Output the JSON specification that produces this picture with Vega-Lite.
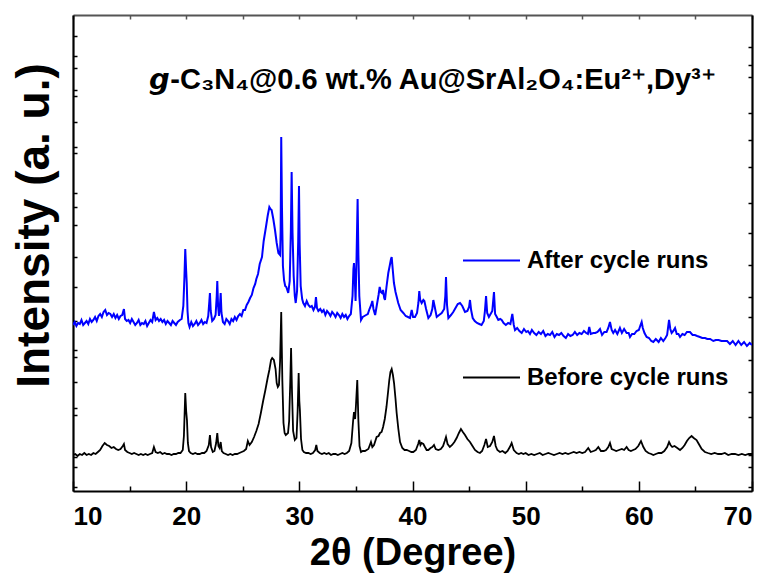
{
  "$schema": "https://vega.github.io/schema/vega-lite/v6.json",
  "width": 679,
  "height": 476,
  "autosize": {"type": "none"},
  "padding": {"left": 73, "top": 15, "right": 18, "bottom": 83},
  "background": "white",
  "config": {
    "view": {"stroke": null},
    "axis": {"grid": false, "domainColor": "#000000", "domainWidth": 2.2, "tickColor": "#000000", "tickWidth": 1.5}
  },
  "title": {
    "text": "𝙜-C₃N₄@0.6 wt.% Au@SrAl₂O₄:Eu²⁺,Dy³⁺",
    "font": "Liberation Sans",
    "fontSize": 29,
    "fontWeight": "bold",
    "color": "#000000",
    "anchor": "middle",
    "baseline": "alphabetic",
    "offset": -104,
    "dx": 20
  },
  "datasets": {
    "before": [
      {"t":10.0,"i":36},{"t":10.2,"i":37},{"t":10.4,"i":35},{"t":10.6,"i":37},{"t":10.8,"i":36},{"t":11.0,"i":38},{"t":11.2,"i":36},{"t":11.4,"i":37},{"t":11.6,"i":36},{"t":11.8,"i":38},
      {"t":12.0,"i":37},{"t":12.2,"i":39},{"t":12.4,"i":41},{"t":12.6,"i":45},{"t":12.8,"i":48},{"t":13.0,"i":46},{"t":13.2,"i":45},{"t":13.4,"i":43},{"t":13.6,"i":44},{"t":13.8,"i":42},
      {"t":14.0,"i":41},{"t":14.2,"i":42},{"t":14.4,"i":45},{"t":14.5,"i":47},{"t":14.6,"i":41},{"t":14.8,"i":39},{"t":15.0,"i":38},{"t":15.2,"i":37},{"t":15.4,"i":38},{"t":15.6,"i":37},
      {"t":15.8,"i":36},{"t":16.0,"i":37},{"t":16.2,"i":36},{"t":16.4,"i":37},{"t":16.6,"i":36},{"t":16.8,"i":37},{"t":17.0,"i":38},{"t":17.15,"i":44},{"t":17.3,"i":39},{"t":17.5,"i":38},
      {"t":17.7,"i":39},{"t":17.9,"i":37},{"t":18.1,"i":38},{"t":18.3,"i":37},{"t":18.5,"i":37},{"t":18.7,"i":36},{"t":18.9,"i":37},{"t":19.1,"i":37},{"t":19.3,"i":38},{"t":19.5,"i":38},
      {"t":19.7,"i":41},{"t":19.8,"i":55},{"t":19.92,"i":98},{"t":20.0,"i":80},{"t":20.07,"i":71},{"t":20.15,"i":48},{"t":20.25,"i":40},{"t":20.4,"i":38},{"t":20.6,"i":37},{"t":20.8,"i":38},
      {"t":21.0,"i":37},{"t":21.2,"i":37},{"t":21.4,"i":38},{"t":21.6,"i":38},{"t":21.8,"i":40},{"t":22.0,"i":46},{"t":22.1,"i":56},{"t":22.2,"i":44},{"t":22.35,"i":39},{"t":22.5,"i":40},
      {"t":22.65,"i":48},{"t":22.75,"i":58},{"t":22.85,"i":45},{"t":22.95,"i":43},{"t":23.05,"i":49},{"t":23.15,"i":40},{"t":23.3,"i":38},{"t":23.5,"i":37},{"t":23.7,"i":36},{"t":23.9,"i":37},
      {"t":24.1,"i":36},{"t":24.3,"i":37},{"t":24.5,"i":37},{"t":24.7,"i":38},{"t":24.9,"i":39},{"t":25.1,"i":40},{"t":25.3,"i":42},{"t":25.45,"i":50},{"t":25.6,"i":46},{"t":25.8,"i":49},
      {"t":26.0,"i":54},{"t":26.2,"i":60},{"t":26.4,"i":67},{"t":26.6,"i":78},{"t":26.8,"i":90},{"t":27.0,"i":101},{"t":27.2,"i":113},{"t":27.35,"i":121},{"t":27.5,"i":131},{"t":27.6,"i":133},
      {"t":27.75,"i":131},{"t":27.9,"i":122},{"t":28.0,"i":108},{"t":28.1,"i":104},{"t":28.2,"i":106},{"t":28.3,"i":130},{"t":28.4,"i":179},{"t":28.5,"i":110},{"t":28.6,"i":68},{"t":28.7,"i":58},
      {"t":28.8,"i":56},{"t":28.9,"i":57},{"t":29.0,"i":58},{"t":29.1,"i":70},{"t":29.2,"i":110},{"t":29.27,"i":143},{"t":29.35,"i":100},{"t":29.45,"i":60},{"t":29.6,"i":51},{"t":29.75,"i":53},
      {"t":29.85,"i":80},{"t":29.94,"i":118},{"t":30.0,"i":90},{"t":30.05,"i":81},{"t":30.15,"i":52},{"t":30.27,"i":41},{"t":30.4,"i":39},{"t":30.6,"i":38},{"t":30.8,"i":38},{"t":31.0,"i":37},
      {"t":31.2,"i":38},{"t":31.4,"i":41},{"t":31.5,"i":46},{"t":31.6,"i":40},{"t":31.8,"i":38},{"t":32.0,"i":37},{"t":32.2,"i":38},{"t":32.4,"i":37},{"t":32.6,"i":38},{"t":32.8,"i":36},
      {"t":33.0,"i":37},{"t":33.2,"i":37},{"t":33.4,"i":36},{"t":33.6,"i":37},{"t":33.8,"i":38},{"t":34.0,"i":37},{"t":34.2,"i":38},{"t":34.4,"i":40},{"t":34.6,"i":48},{"t":34.75,"i":70},
      {"t":34.83,"i":79},{"t":34.93,"i":72},{"t":35.0,"i":85},{"t":35.12,"i":111},{"t":35.22,"i":70},{"t":35.32,"i":45},{"t":35.45,"i":39},{"t":35.6,"i":40},{"t":35.8,"i":40},{"t":35.95,"i":41},
      {"t":36.1,"i":42},{"t":36.2,"i":45},{"t":36.33,"i":49},{"t":36.45,"i":44},{"t":36.6,"i":46},{"t":36.83,"i":54},{"t":37.0,"i":55},{"t":37.13,"i":58},{"t":37.27,"i":59},{"t":37.4,"i":64},
      {"t":37.55,"i":72},{"t":37.7,"i":84},{"t":37.85,"i":100},{"t":37.95,"i":111},{"t":38.05,"i":119},{"t":38.16,"i":122},{"t":38.27,"i":116},{"t":38.37,"i":108},{"t":38.5,"i":92},{"t":38.6,"i":78},
      {"t":38.75,"i":62},{"t":38.9,"i":49},{"t":39.1,"i":43},{"t":39.3,"i":41},{"t":39.49,"i":41},{"t":39.7,"i":40},{"t":39.9,"i":39},{"t":40.07,"i":39},{"t":40.3,"i":41},{"t":40.5,"i":47},
      {"t":40.6,"i":51},{"t":40.7,"i":46},{"t":40.8,"i":48},{"t":40.96,"i":47},{"t":41.1,"i":44},{"t":41.25,"i":41},{"t":41.4,"i":41},{"t":41.6,"i":43},{"t":41.75,"i":44},{"t":41.9,"i":46},
      {"t":42.05,"i":42},{"t":42.28,"i":41},{"t":42.5,"i":42},{"t":42.7,"i":45},{"t":42.85,"i":50},{"t":42.96,"i":54},{"t":43.1,"i":47},{"t":43.3,"i":44},{"t":43.5,"i":46},{"t":43.7,"i":49},
      {"t":43.9,"i":53},{"t":44.1,"i":58},{"t":44.28,"i":62},{"t":44.45,"i":59},{"t":44.64,"i":56},{"t":44.85,"i":52},{"t":45.08,"i":49},{"t":45.3,"i":45},{"t":45.52,"i":41},{"t":45.75,"i":39},
      {"t":45.96,"i":38},{"t":46.15,"i":40},{"t":46.35,"i":46},{"t":46.5,"i":52},{"t":46.65,"i":44},{"t":46.85,"i":45},{"t":47.05,"i":49},{"t":47.2,"i":55},{"t":47.35,"i":45},{"t":47.5,"i":41},
      {"t":47.73,"i":39},{"t":47.95,"i":40},{"t":48.2,"i":38},{"t":48.4,"i":40},{"t":48.6,"i":44},{"t":48.76,"i":48},{"t":48.95,"i":41},{"t":49.2,"i":38},{"t":49.4,"i":37},{"t":49.6,"i":38},
      {"t":49.8,"i":37},{"t":50.0,"i":38},{"t":50.25,"i":36},{"t":50.5,"i":37},{"t":50.75,"i":36},{"t":51.0,"i":37},{"t":51.25,"i":38},{"t":51.5,"i":36},{"t":51.75,"i":37},{"t":52.0,"i":38},
      {"t":52.25,"i":37},{"t":52.5,"i":36},{"t":52.75,"i":37},{"t":53.0,"i":38},{"t":53.25,"i":37},{"t":53.5,"i":38},{"t":53.75,"i":37},{"t":54.0,"i":38},{"t":54.25,"i":39},{"t":54.5,"i":38},
      {"t":54.75,"i":39},{"t":55.0,"i":38},{"t":55.25,"i":39},{"t":55.53,"i":43},{"t":55.75,"i":39},{"t":56.0,"i":40},{"t":56.2,"i":41},{"t":56.42,"i":44},{"t":56.65,"i":40},{"t":56.9,"i":40},
      {"t":57.1,"i":41},{"t":57.3,"i":44},{"t":57.45,"i":48},{"t":57.6,"i":42},{"t":57.8,"i":41},{"t":58.0,"i":40},{"t":58.25,"i":41},{"t":58.5,"i":42},{"t":58.7,"i":41},{"t":58.92,"i":44},
      {"t":59.1,"i":41},{"t":59.3,"i":40},{"t":59.5,"i":41},{"t":59.7,"i":42},{"t":59.95,"i":45},{"t":60.19,"i":50},{"t":60.4,"i":44},{"t":60.6,"i":40},{"t":60.85,"i":38},{"t":61.1,"i":37},
      {"t":61.28,"i":36},{"t":61.5,"i":37},{"t":61.75,"i":38},{"t":62.0,"i":38},{"t":62.25,"i":40},{"t":62.5,"i":44},{"t":62.67,"i":49},{"t":62.8,"i":46},{"t":62.95,"i":44},{"t":63.15,"i":45},
      {"t":63.4,"i":43},{"t":63.64,"i":41},{"t":63.85,"i":43},{"t":64.05,"i":46},{"t":64.25,"i":50},{"t":64.45,"i":53},{"t":64.66,"i":55},{"t":64.85,"i":53},{"t":65.1,"i":51},{"t":65.3,"i":47},
      {"t":65.55,"i":42},{"t":65.84,"i":39},{"t":66.1,"i":38},{"t":66.4,"i":37},{"t":66.7,"i":38},{"t":67.0,"i":37},{"t":67.3,"i":37},{"t":67.6,"i":38},{"t":67.9,"i":36},{"t":68.2,"i":37},
      {"t":68.5,"i":37},{"t":68.8,"i":36},{"t":69.1,"i":37},{"t":69.4,"i":36},{"t":69.7,"i":37},{"t":70.0,"i":37}
    ],
    "after": [
      {"t":10.0,"i":166},{"t":10.15,"i":169},{"t":10.3,"i":165},{"t":10.45,"i":168},{"t":10.6,"i":167},{"t":10.75,"i":171},{"t":10.9,"i":166},{"t":11.05,"i":168},{"t":11.2,"i":170},{"t":11.35,"i":167},
      {"t":11.5,"i":172},{"t":11.65,"i":169},{"t":11.8,"i":171},{"t":11.95,"i":174},{"t":12.1,"i":170},{"t":12.25,"i":175},{"t":12.4,"i":177},{"t":12.55,"i":174},{"t":12.7,"i":179},{"t":12.85,"i":181},
      {"t":13.0,"i":176},{"t":13.15,"i":178},{"t":13.3,"i":177},{"t":13.45,"i":174},{"t":13.6,"i":177},{"t":13.75,"i":173},{"t":13.9,"i":176},{"t":14.05,"i":172},{"t":14.2,"i":175},{"t":14.35,"i":176},
      {"t":14.5,"i":182},{"t":14.6,"i":172},{"t":14.75,"i":170},{"t":14.9,"i":171},{"t":15.05,"i":168},{"t":15.2,"i":172},{"t":15.35,"i":169},{"t":15.5,"i":166},{"t":15.65,"i":168},{"t":15.8,"i":171},
      {"t":15.95,"i":166},{"t":16.1,"i":168},{"t":16.25,"i":167},{"t":16.4,"i":170},{"t":16.55,"i":165},{"t":16.7,"i":168},{"t":16.85,"i":171},{"t":17.0,"i":169},{"t":17.15,"i":179},{"t":17.3,"i":171},
      {"t":17.45,"i":173},{"t":17.6,"i":170},{"t":17.75,"i":172},{"t":17.9,"i":169},{"t":18.05,"i":171},{"t":18.2,"i":167},{"t":18.35,"i":170},{"t":18.5,"i":168},{"t":18.65,"i":166},{"t":18.8,"i":170},
      {"t":18.95,"i":168},{"t":19.1,"i":166},{"t":19.25,"i":169},{"t":19.45,"i":171},{"t":19.6,"i":172},{"t":19.75,"i":185},{"t":19.85,"i":215},{"t":19.92,"i":242},{"t":20.0,"i":220},{"t":20.05,"i":208},
      {"t":20.12,"i":180},{"t":20.2,"i":168},{"t":20.3,"i":164},{"t":20.45,"i":169},{"t":20.6,"i":165},{"t":20.75,"i":167},{"t":20.9,"i":170},{"t":21.05,"i":166},{"t":21.2,"i":168},{"t":21.35,"i":171},
      {"t":21.5,"i":167},{"t":21.65,"i":169},{"t":21.8,"i":168},{"t":21.95,"i":175},{"t":22.05,"i":190},{"t":22.1,"i":198},{"t":22.17,"i":180},{"t":22.3,"i":170},{"t":22.45,"i":172},{"t":22.6,"i":176},
      {"t":22.7,"i":195},{"t":22.75,"i":210},{"t":22.82,"i":185},{"t":22.9,"i":175},{"t":22.98,"i":185},{"t":23.05,"i":198},{"t":23.12,"i":178},{"t":23.25,"i":169},{"t":23.4,"i":167},{"t":23.55,"i":172},
      {"t":23.7,"i":170},{"t":23.85,"i":167},{"t":24.0,"i":172},{"t":24.15,"i":170},{"t":24.3,"i":174},{"t":24.45,"i":171},{"t":24.6,"i":175},{"t":24.75,"i":177},{"t":24.9,"i":175},{"t":25.05,"i":181},
      {"t":25.2,"i":181},{"t":25.35,"i":186},{"t":25.5,"i":189},{"t":25.65,"i":193},{"t":25.8,"i":196},{"t":25.95,"i":203},{"t":26.1,"i":207},{"t":26.2,"i":212},{"t":26.35,"i":217},{"t":26.5,"i":227},
      {"t":26.7,"i":234},{"t":26.85,"i":250},{"t":27.05,"i":264},{"t":27.2,"i":275},{"t":27.35,"i":284},{"t":27.45,"i":282},{"t":27.55,"i":281},{"t":27.7,"i":272},{"t":27.85,"i":261},{"t":28.0,"i":248},
      {"t":28.15,"i":238},{"t":28.3,"i":236},{"t":28.35,"i":260},{"t":28.4,"i":354},{"t":28.47,"i":280},{"t":28.55,"i":225},{"t":28.65,"i":211},{"t":28.75,"i":205},{"t":28.85,"i":204},{"t":29.02,"i":198},
      {"t":29.15,"i":210},{"t":29.25,"i":260},{"t":29.32,"i":319},{"t":29.4,"i":258},{"t":29.5,"i":215},{"t":29.6,"i":195},{"t":29.68,"i":188},{"t":29.8,"i":200},{"t":29.9,"i":250},{"t":29.97,"i":305},
      {"t":30.03,"i":246},{"t":30.12,"i":205},{"t":30.25,"i":192},{"t":30.35,"i":188},{"t":30.5,"i":185},{"t":30.65,"i":190},{"t":30.8,"i":186},{"t":30.95,"i":184},{"t":31.1,"i":185},{"t":31.25,"i":181},
      {"t":31.38,"i":184},{"t":31.47,"i":194},{"t":31.56,"i":183},{"t":31.68,"i":180},{"t":31.85,"i":182},{"t":32.0,"i":179},{"t":32.15,"i":181},{"t":32.3,"i":176},{"t":32.45,"i":180},{"t":32.6,"i":178},
      {"t":32.75,"i":175},{"t":32.9,"i":179},{"t":33.05,"i":177},{"t":33.2,"i":174},{"t":33.35,"i":178},{"t":33.5,"i":176},{"t":33.65,"i":173},{"t":33.8,"i":177},{"t":33.95,"i":174},{"t":34.1,"i":176},
      {"t":34.25,"i":172},{"t":34.4,"i":175},{"t":34.55,"i":177},{"t":34.7,"i":195},{"t":34.78,"i":222},{"t":34.83,"i":228},{"t":34.9,"i":212},{"t":34.97,"i":190},{"t":35.05,"i":230},{"t":35.15,"i":292},
      {"t":35.22,"i":236},{"t":35.3,"i":195},{"t":35.45,"i":171},{"t":35.6,"i":174},{"t":35.75,"i":175},{"t":35.9,"i":176},{"t":36.05,"i":177},{"t":36.2,"i":182},{"t":36.35,"i":186},{"t":36.45,"i":190},
      {"t":36.55,"i":182},{"t":36.7,"i":176},{"t":36.85,"i":186},{"t":37.0,"i":196},{"t":37.1,"i":204},{"t":37.2,"i":199},{"t":37.3,"i":198},{"t":37.4,"i":201},{"t":37.5,"i":193},{"t":37.57,"i":191},
      {"t":37.7,"i":204},{"t":37.86,"i":218},{"t":38.0,"i":226},{"t":38.1,"i":232},{"t":38.16,"i":234},{"t":38.25,"i":222},{"t":38.36,"i":208},{"t":38.5,"i":199},{"t":38.74,"i":188},{"t":38.95,"i":181},
      {"t":39.19,"i":178},{"t":39.4,"i":175},{"t":39.6,"i":174},{"t":39.78,"i":173},{"t":39.93,"i":181},{"t":40.05,"i":174},{"t":40.22,"i":174},{"t":40.4,"i":178},{"t":40.52,"i":188},{"t":40.6,"i":200},
      {"t":40.68,"i":191},{"t":40.81,"i":188},{"t":40.96,"i":191},{"t":41.05,"i":190},{"t":41.2,"i":182},{"t":41.4,"i":173},{"t":41.6,"i":176},{"t":41.75,"i":182},{"t":41.84,"i":191},{"t":41.95,"i":185},
      {"t":42.14,"i":174},{"t":42.35,"i":176},{"t":42.58,"i":178},{"t":42.8,"i":182},{"t":42.9,"i":195},{"t":42.96,"i":214},{"t":43.05,"i":186},{"t":43.17,"i":173},{"t":43.4,"i":176},{"t":43.6,"i":179},
      {"t":43.8,"i":183},{"t":44.0,"i":187},{"t":44.2,"i":188},{"t":44.4,"i":185},{"t":44.64,"i":179},{"t":44.85,"i":180},{"t":45.0,"i":184},{"t":45.08,"i":191},{"t":45.18,"i":181},{"t":45.32,"i":173},
      {"t":45.5,"i":170},{"t":45.7,"i":168},{"t":45.9,"i":167},{"t":46.1,"i":166},{"t":46.3,"i":170},{"t":46.4,"i":180},{"t":46.5,"i":195},{"t":46.6,"i":178},{"t":46.75,"i":174},{"t":46.9,"i":177},
      {"t":47.05,"i":180},{"t":47.2,"i":199},{"t":47.3,"i":177},{"t":47.45,"i":174},{"t":47.58,"i":171},{"t":47.75,"i":172},{"t":47.88,"i":171},{"t":48.05,"i":168},{"t":48.25,"i":166},{"t":48.45,"i":168},
      {"t":48.65,"i":167},{"t":48.82,"i":177},{"t":48.95,"i":166},{"t":49.06,"i":161},{"t":49.25,"i":163},{"t":49.45,"i":160},{"t":49.65,"i":158},{"t":49.85,"i":162},{"t":50.05,"i":159},{"t":50.2,"i":160},
      {"t":50.38,"i":157},{"t":50.55,"i":161},{"t":50.75,"i":158},{"t":50.95,"i":156},{"t":51.15,"i":159},{"t":51.35,"i":157},{"t":51.55,"i":160},{"t":51.75,"i":155},{"t":51.95,"i":157},{"t":52.15,"i":156},
      {"t":52.35,"i":159},{"t":52.55,"i":154},{"t":52.75,"i":157},{"t":52.95,"i":156},{"t":53.15,"i":158},{"t":53.35,"i":155},{"t":53.55,"i":153},{"t":53.75,"i":157},{"t":53.95,"i":155},{"t":54.15,"i":156},
      {"t":54.35,"i":159},{"t":54.55,"i":156},{"t":54.75,"i":158},{"t":54.95,"i":157},{"t":55.15,"i":160},{"t":55.35,"i":158},{"t":55.5,"i":157},{"t":55.62,"i":164},{"t":55.75,"i":157},{"t":55.98,"i":158},
      {"t":56.15,"i":158},{"t":56.35,"i":159},{"t":56.57,"i":162},{"t":56.75,"i":156},{"t":56.95,"i":159},{"t":57.15,"i":159},{"t":57.3,"i":163},{"t":57.45,"i":169},{"t":57.6,"i":161},{"t":57.74,"i":158},
      {"t":57.9,"i":161},{"t":58.1,"i":157},{"t":58.33,"i":163},{"t":58.5,"i":158},{"t":58.7,"i":162},{"t":58.92,"i":158},{"t":59.1,"i":158},{"t":59.22,"i":154},{"t":59.4,"i":157},{"t":59.6,"i":157},
      {"t":59.8,"i":160},{"t":60.0,"i":161},{"t":60.15,"i":166},{"t":60.25,"i":169},{"t":60.35,"i":163},{"t":60.5,"i":158},{"t":60.69,"i":154},{"t":60.9,"i":153},{"t":61.1,"i":150},{"t":61.28,"i":149},
      {"t":61.5,"i":152},{"t":61.75,"i":149},{"t":61.95,"i":153},{"t":62.16,"i":150},{"t":62.35,"i":153},{"t":62.5,"i":156},{"t":62.6,"i":165},{"t":62.67,"i":171},{"t":62.78,"i":162},{"t":62.9,"i":158},
      {"t":63.05,"i":160},{"t":63.2,"i":163},{"t":63.35,"i":157},{"t":63.5,"i":157},{"t":63.64,"i":154},{"t":63.85,"i":157},{"t":64.05,"i":156},{"t":64.25,"i":159},{"t":64.52,"i":159},{"t":64.75,"i":156},
      {"t":64.95,"i":156},{"t":65.15,"i":155},{"t":65.4,"i":154},{"t":65.6,"i":153},{"t":65.85,"i":153},{"t":66.05,"i":152},{"t":66.3,"i":152},{"t":66.58,"i":150},{"t":66.8,"i":151},{"t":67.05,"i":151},
      {"t":67.3,"i":150},{"t":67.55,"i":150},{"t":67.8,"i":150},{"t":68.05,"i":147},{"t":68.3,"i":150},{"t":68.55,"i":146},{"t":68.8,"i":150},{"t":69.05,"i":146},{"t":69.3,"i":149},{"t":69.55,"i":145},
      {"t":69.8,"i":148},{"t":70.0,"i":146}
    ]
  },
  "layer": [
    {
      "data": {"name": "after"},
      "mark": {"type": "line", "strokeWidth": 2, "clip": true},
      "encoding": {
        "x": {
          "field": "t", "type": "quantitative",
          "scale": {"domain": [10, 70], "nice": false, "zero": false},
          "axis": {
            "orient": "top", "values": [10, 15, 20, 25, 30, 35, 40, 45, 50, 55, 60, 65, 70],
            "labels": false, "title": null, "tickSize": -4, "tickColor": "#555555", "domainColor": "#555555", "domainWidth": 2
          }
        },
        "y": {
          "field": "i", "type": "quantitative",
          "scale": {"domain": [0, 476], "nice": false, "zero": false},
          "axis": {
            "orient": "right", "values": [4, 24, 36, 74, 99, 131, 174, 194, 226, 258, 288, 324, 351, 378, 414, 426, 444],
            "labels": false, "title": null, "tickSize": -4, "domainWidth": 2.2
          }
        },
        "color": {
          "datum": "After cycle runs",
          "type": "nominal",
          "scale": {"domain": ["After cycle runs", "Before cycle runs"], "range": ["#0000ff", "#000000"]},
          "legend": {
            "title": null, "orient": "none", "legendX": 389, "legendY": 216,
            "symbolType": "stroke", "symbolSize": 3249, "symbolStrokeWidth": 2,
            "rowPadding": 75, "labelOffset": 6, "padding": 0,
            "labelFont": "Liberation Sans", "labelFontSize": 24, "labelFontWeight": "bold", "labelColor": "#000000",
            "labelLimit": 400
          }
        }
      }
    },
    {
      "data": {"name": "before"},
      "mark": {"type": "line", "strokeWidth": 1.8, "clip": true},
      "encoding": {
        "x": {
          "field": "t", "type": "quantitative",
          "axis": {
            "orient": "bottom", "values": [10, 15, 20, 25, 30, 35, 40, 45, 50, 55, 60, 65, 70],
            "labelExpr": "datum.value % 10 === 0 ? datum.label : ''",
            "tickSize": {"condition": {"test": "datum.value % 10 === 0", "value": -10}, "value": -5},
            "labelPadding": 22,
            "labelFont": "Liberation Sans", "labelFontSize": 26, "labelFontWeight": "bold", "labelColor": "#000000",
            "title": "2θ (Degree)", "titleFont": "Liberation Sans", "titleFontSize": 38, "titleFontWeight": "bold", "titleColor": "#000000",
            "titlePadding": 5
          }
        },
        "y": {
          "field": "i", "type": "quantitative",
          "axis": {
            "orient": "left", "values": [4, 24, 34, 76, 83, 109, 134, 141, 170, 204, 234, 266, 284, 298, 338, 344, 369, 395, 401, 423, 435, 455],
            "labels": false, "tickSize": -4,
            "title": "Intensity (a. u.)", "titleFont": "Liberation Sans", "titleFontSize": 46, "titleFontWeight": "bold", "titleColor": "#000000",
            "titleAngle": -90, "titleAlign": "center", "titleBaseline": "middle", "titleX": -39, "titleY": 210
          }
        },
        "color": {"datum": "Before cycle runs", "type": "nominal"}
      }
    }
  ],
  "resolve": {"axis": {"x": "independent", "y": "independent"}}
}
